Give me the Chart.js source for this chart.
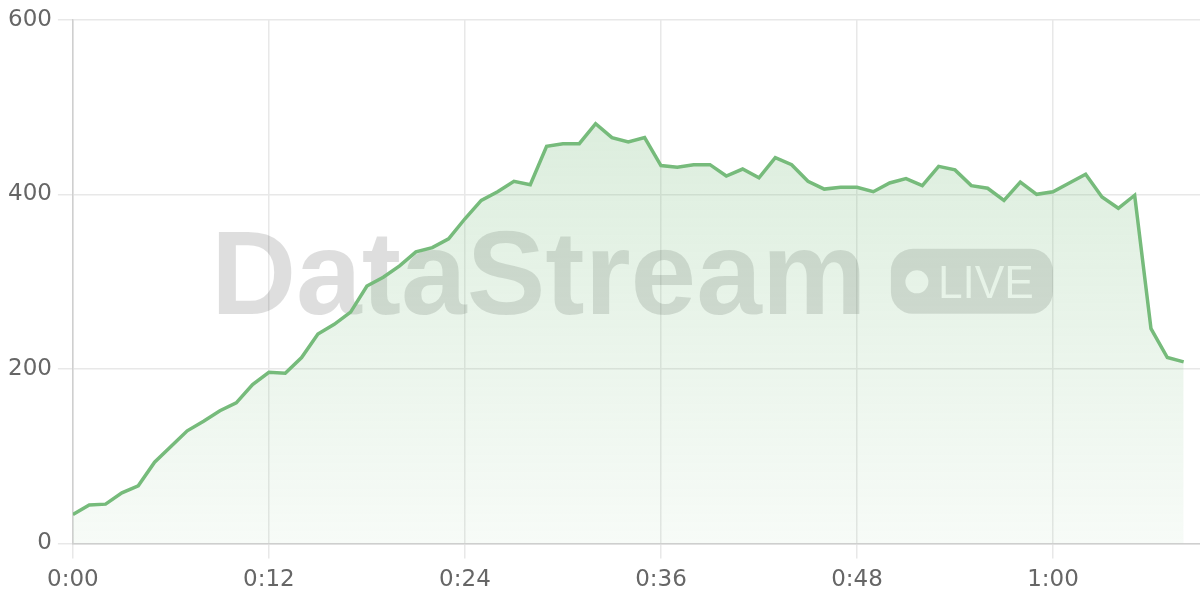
<!DOCTYPE html>
<html lang="en">
<head>
    <meta charset="UTF-8">
    <title>DataStream live</title>
    <script src="https://cdn.jsdelivr.net/npm/chart.js"></script>
    <style>
        html, body { margin: 0; padding: 0; background: #fff; }
        #wrap { width: 1200px; height: 600px; }
    </style>
</head>
<body>
    <div id="wrap"><canvas id="streamChart"></canvas></div>

    <script>
        // minutes since start, one reading per minute
        const minutes = [0, 1, 2, 3, 4, 5, 6, 7, 8, 9, 10, 11, 12, 13, 14, 15, 16, 17, 18, 19,
            20, 21, 22, 23, 24, 25, 26, 27, 28, 29, 30, 31, 32, 33, 34, 35, 36, 37, 38, 39,
            40, 41, 42, 43, 44, 45, 46, 47, 48, 49, 50, 51, 52, 53, 54, 55, 56, 57, 58, 59,
            60, 61, 62, 63, 64, 65, 66, 67, 68];
        const viewers = [33, 44, 45, 58, 66, 93, 111, 129, 140, 152, 161, 182, 196, 195, 213, 240, 251, 265, 295, 305,
            318, 334, 339, 349, 372, 393, 403, 415, 411, 455, 458, 458, 481, 465, 460, 465, 433, 431, 434, 434,
            421, 429, 419, 442, 434, 415, 406, 408, 408, 403, 413, 418, 410, 432, 428, 410, 407, 393, 414, 400,
            403, 413, 423, 397, 384, 399, 246, 213, 208];
        const xTickLabels = ["0:00", "0:12", "0:24", "0:36", "0:48", "1:00"];
        const yTicks = [0, 200, 400, 600];

        const green = 'rgb(118, 187, 123)';

        // watermark drawn behind the series
        const watermark = {
            id: 'watermark',
            beforeDatasetsDraw(chart) {
                const ca = chart.chartArea;
                const off = document.createElement('canvas');
                off.width = chart.width;
                off.height = chart.height;
                const o = off.getContext('2d');
                o.fillStyle = 'rgba(0, 0, 0, 0.13)';
                o.font = 'bold 118px "Liberation Sans", Arial, sans-serif';
                o.textBaseline = 'alphabetic';
                o.fillText('DataStream', ca.left + 138, ca.top + 294, 660);

                // LIVE badge
                const bx = ca.left + 818, by = ca.top + 229, bw = 162, bh = 65, r = 22;
                o.beginPath();
                o.moveTo(bx + r, by);
                o.arcTo(bx + bw, by, bx + bw, by + bh, r);
                o.arcTo(bx + bw, by + bh, bx, by + bh, r);
                o.arcTo(bx, by + bh, bx, by, r);
                o.arcTo(bx, by, bx + bw, by, r);
                o.closePath();
                o.fill();
                o.globalCompositeOperation = 'destination-out';
                o.fillStyle = '#000';
                o.beginPath();
                o.arc(ca.left + 844, ca.top + 262, 11.5, 0, Math.PI * 2);
                o.fill();
                o.font = '47px "Liberation Sans", Arial, sans-serif';
                o.fillText('LIVE', ca.left + 865, ca.top + 278, 96);

                chart.ctx.drawImage(off, 0, 0, chart.width, chart.height);
            }
        };

        const ctx = document.getElementById('streamChart').getContext('2d');
        new Chart(ctx, {
            type: 'line',
            data: {
                datasets: [{
                    data: minutes.map((m, i) => ({ x: m, y: viewers[i] })),
                    borderColor: green,
                    borderWidth: 3.5,
                    pointRadius: 0,
                    tension: 0,
                    fill: 'origin',
                    backgroundColor(c) {
                        const ca = c.chart.chartArea;
                        if (!ca) return 'rgba(118,187,123,0.15)';
                        const g = c.chart.ctx.createLinearGradient(0, ca.top, 0, ca.bottom);
                        g.addColorStop(0, 'rgba(118, 187, 123, 0.30)');
                        g.addColorStop(1, 'rgba(118, 187, 123, 0.06)');
                        return g;
                    }
                }]
            },
            options: {
                responsive: true,
                maintainAspectRatio: false,
                animation: false,
                layout: { padding: { top: 9, right: 0, left: 2, bottom: -2 } },
                plugins: { legend: { display: false }, tooltip: { enabled: false } },
                scales: {
                    x: {
                        type: 'linear',
                        min: 0,
                        max: 69,
                        border: { color: '#cfcfcf', width: 1.5 },
                        grid: { color: '#e8e8e8', lineWidth: 1.5, tickLength: 15 },
                        ticks: {
                            stepSize: 12,
                            includeBounds: false,
                            padding: 8,
                            color: '#666',
                            font: { family: '"DejaVu Sans", sans-serif', size: 23 },
                            maxRotation: 0,
                            callback: v => xTickLabels[v / 12]
                        }
                    },
                    y: {
                        min: yTicks[0],
                        max: yTicks[yTicks.length - 1],
                        border: { color: '#cfcfcf', width: 1.5 },
                        grid: { color: '#e8e8e8', lineWidth: 1.5, tickLength: 15 },
                        ticks: {
                            stepSize: 200,
                            padding: 6,
                            color: '#666',
                            font: { family: '"DejaVu Sans", sans-serif', size: 23 }
                        }
                    }
                }
            },
            plugins: [watermark]
        });
    </script>
</body>
</html>
